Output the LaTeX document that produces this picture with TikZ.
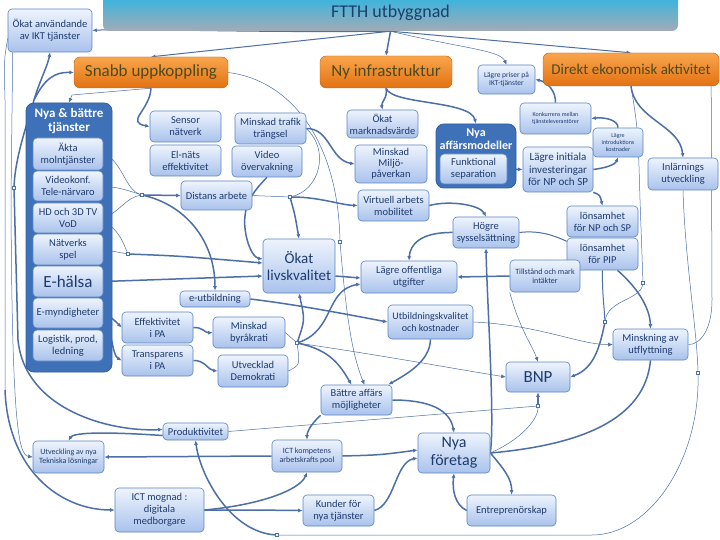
\documentclass[tikz,border=0pt]{standalone}
\usepackage{fontspec}
\setmainfont{Carlito}
\usetikzlibrary{arrows.meta}
\pgfdeclarelayer{back}
\pgfdeclarelayer{bg}
\pgfsetlayers{back,bg,main}
\definecolor{lc}{HTML}{4C6FA6}
\definecolor{bt}{HTML}{EEF4FD}
\definecolor{bb}{HTML}{A9C2EC}
\definecolor{bd}{HTML}{5A84C3}
\definecolor{tx}{HTML}{1F3B6E}
\definecolor{ort}{HTML}{F9A54C}
\definecolor{orb}{HTML}{E27212}
\definecolor{otx}{HTML}{4E4A1E}
\definecolor{cb}{HTML}{3F71B9}
\definecolor{cbd}{HTML}{2F5E9F}
\definecolor{tt}{HTML}{2DB6E2}
\definecolor{tb}{HTML}{A2ABB5}
\definecolor{ttx}{HTML}{1B3F6E}
\newcommand\fs[2]{\fontsize{#1}{#2}\selectfont}
\newcommand\mkbox[7][lb]{\node[#1,minimum width={(#5)-(#3)},minimum height={(#6)-(#4)}] (#2) at ({((#3)+(#5))/2},{((#4)+(#6))/2}) {#7};}
\tikzset{
 lb/.style={draw=bd, line width=0.6pt, rounded corners=4pt, top color=bt, bottom color=bb, text=tx, align=center, inner sep=0pt, font=\fs{10.5}{12}},
 orbox/.style={draw=orb!85!black, line width=0.4pt, rounded corners=6pt, top color=ort, bottom color=orb, text=otx, align=center, inner sep=0pt, font=\fs{17}{19}},
 titlebox/.style={rounded corners=6pt, top color=tt, bottom color=tb, text=ttx, align=center, inner sep=0pt, font=\fs{18}{20}},
 cont/.style={fill=cb, draw=cbd, line width=0.8pt, rounded corners=8pt, inner sep=0pt},
 ctitle/.style={text=white, font=\bfseries\fs{13}{14}, align=center, inner sep=0pt},
 jq/.style={draw=lc, fill=white, minimum size=3pt, inner sep=0pt, line width=0.4pt},
 arr/.style={-{Latex[length=4.5pt,width=4pt]}},
 thk/.style={draw=lc, line width=1.5pt},
 med/.style={draw=lc, line width=1pt},
 thn/.style={draw=lc, line width=0.5pt},
}
\begin{document}
\begin{tikzpicture}[x=1pt,y=-1pt]
\useasboundingbox (0,0) rectangle (720,540);
\begin{pgfonlayer}{back}
\fill[white] (0,0) rectangle (720,540);
\end{pgfonlayer}
% ---------- nodes ----------
\mkbox[titlebox]{ftth}{103}{-6}{678}{31}{FTTH utbyggnad}
\mkbox{okat}{8}{9}{92}{52}{Ökat användande\\av IKT tjänster}
\mkbox[orbox]{snabb}{74}{57}{228}{88}{Snabb uppkoppling}
\mkbox[orbox]{nyinf}{320}{56}{452}{88}{Ny infrastruktur}
\mkbox[orbox,font=\fs{15}{17}]{direkt}{543}{53}{719}{86}{Direkt ekonomisk aktivitet}
\mkbox[lb,font=\fs{7.5}{8.5}]{lpris}{478}{65}{535}{94}{Lägre priser på\\IKT-tjänster}
\mkbox[cont]{nbt}{26}{103}{112}{372}{}
\node[ctitle] (nbtt) at (69,121) {Nya \& bättre\\tjänster};
\mkbox{akta}{33}{138}{103}{170}{Äkta\\molntjänster}
\mkbox{vkonf}{33}{171}{103}{201}{Videokonf.\\Tele-närvaro}
\mkbox{hdtv}{33}{203}{103}{233}{HD och 3D TV\\VoD}
\mkbox{spel}{33}{234}{103}{265}{Nätverks\\spel}
\mkbox[lb,font=\fs{17}{18}]{ehalsa}{33}{266}{103}{297}{E-hälsa}
\mkbox{emyn}{33}{298}{103}{328}{E-myndigheter}
\mkbox{logi}{33}{330}{103}{361}{Logistik, prod,\\ledning}
\mkbox{sensor}{150}{111}{221}{142}{Sensor\\nätverk}
\mkbox{elnat}{150}{145}{221}{176}{El-näts\\effektivitet}
\mkbox{mtraf}{235}{113}{306}{144}{Minskad trafik\\trängsel}
\mkbox{video}{232}{146}{302}{177}{Video\\övervakning}
\mkbox{distans}{181}{181}{252}{210}{Distans arbete}
\mkbox{marknad}{347}{110}{418}{138}{Ökat\\marknadsvärde}
\mkbox[lb,font=\fs{10.5}{11}]{miljo}{355}{145}{427}{183}{Minskad\\Miljö-\\påverkan}
\mkbox{virt}{358}{190}{429}{221}{Virtuell arbets\\mobilitet}
\mkbox[cont]{nya}{436}{124}{516}{188}{}
\node[ctitle,font=\bfseries\fs{12}{13}] (nyat) at (476,139) {Nya\\affärsmodeller};
\mkbox{funk}{440}{154}{507}{184}{Funktional\\separation}
\mkbox[lb,font=\fs{6}{7}]{konk}{520}{103}{591}{134}{Konkurrens mellan\\tjänsteleverantörer}
\mkbox[lb,font=\fs{6}{7}]{intro}{593}{128}{643}{157}{Lägre\\introduktions\\kostnader}
\mkbox[lb,font=\fs{11}{12.5}]{linit}{523}{147}{593}{192}{Lägre initiala\\investeringar\\för NP och SP}
\mkbox{inlarn}{648}{158}{718}{190}{Inlärnings\\utveckling}
\mkbox{lnp}{567}{206}{638}{237}{lönsamhet\\för NP och SP}
\mkbox{lpip}{567}{238}{638}{270}{lönsamhet\\för PIP}
\mkbox[lb,font=\fs{8}{9}]{tillst}{510}{260}{580}{292}{Tillstånd och mark\\intäkter}
\mkbox{hogre}{453}{217}{519}{248}{Högre\\sysselsättning}
\mkbox{loff}{361}{261}{457}{293}{Lägre offentliga\\utgifter}
\mkbox[lb,font=\fs{15}{17}]{livs}{263}{239}{335}{293}{Ökat\\livskvalitet}
\mkbox{eutb}{180}{291}{250}{307}{e-utbildning}
\mkbox{effpa}{122}{312}{193}{343}{Effektivitet\\i PA}
\mkbox{transp}{122}{345}{193}{376}{Transparens\\i PA}
\mkbox{byr}{213}{317}{285}{348}{Minskad\\byråkrati}
\mkbox{demo}{218}{355}{288}{387}{Utvecklad\\Demokrati}
\mkbox[lb,font=\fs{10}{12}]{utbk}{388}{305}{473}{339}{Utbildningskvalitet\\och kostnader}
\mkbox{minsk}{613}{329}{688}{360}{Minskning av\\utflyttning}
\mkbox[lb,font=\fs{17}{18}]{bnp}{506}{362}{570}{392}{BNP}
\mkbox{battre}{321}{385}{392}{415}{Bättre affärs\\möjligheter}
\mkbox{prod}{163}{423}{228}{440}{Produktivitet}
\mkbox[lb,font=\fs{8}{9}]{utv}{33}{441}{104}{473}{Utveckling av nya\\Tekniska lösningar}
\mkbox[lb,font=\fs{8}{9}]{ictk}{272}{440}{342}{472}{ICT kompetens\\arbetskrafts pool}
\mkbox[lb,font=\fs{16}{18}]{nyaf}{418}{433}{490}{473}{Nya\\företag}
\mkbox{mogn}{115}{488}{204}{532}{ICT mognad :\\digitala\\medborgare}
\mkbox{kund}{303}{495}{374}{526}{Kunder för\\nya tjänster}
\mkbox{entre}{467}{495}{556}{526}{Entreprenörskap}
% junctions
\node[jq] (j1) at (142,195) {};
\node[jq] (j2) at (128,254) {};
\node[jq] (j3) at (297,343) {};
\node[jq] (j4) at (290,197) {};
\node[jq] (j5) at (643,283) {};
\node[jq] (j6) at (605,322) {};
\node[jq] (j7) at (538,406) {};
\node[jq] (j8) at (277,535) {};
\node[jq] (j9) at (698,373) {};
\node[jq] (js) at (340,242) {};
\node[jq] (l2) at (14,188) {};
\coordinate (l1) at (34,100);
% ---------- connectors ----------
\begin{pgfonlayer}{bg}
% FTTH
\draw[thk,arr] (ftth.south) -- (nyinf.north);
\draw[med,arr] (ftth.south) -- (direkt.north);
\draw[med,arr] (ftth.south) -- (snabb.north);
\draw[med,arr] (ftth.south) .. controls (250,33) and (130,28) .. (okat.east);
\draw[thn,arr] (ftth.south) .. controls (460,48) and (500,50) .. (lpris.north);
% Snabb uppkoppling
\draw[thk,arr] (snabb.south) .. controls (150,110) and (125,122) .. (sensor.west);
\draw[thn,arr] (snabb.south) -- (72,95) -- (nbt.north);
\draw[thn] (snabb.east) .. controls (290,80) and (338,140) .. (js);
\draw[thn,arr] (js) .. controls (345,300) and (350,350) .. ([xshift=8pt]battre.north);
% left side
\draw[thk,arr] (l1) .. controls (40,80) and (48,65) .. (okat.south);
\draw[thk,arr] (l1) .. controls (45,78) and (55,72) .. (snabb.west);
\draw[thk] (l1) .. controls (25,130) and (15,160) .. (l2);
\draw[thk,arr] (l2) -- (18,340) .. controls (25,410) and (110,432) .. ([yshift=2pt]prod.west);
\draw[thn] ([yshift=-8pt]okat.west) .. controls (4,60) .. (5,100) -- (5,390);
\draw[thk,arr] (5,390) .. controls (8,470) and (60,510) .. (mogn.west);
\draw[thn,arr] ([xshift=5pt]okat.south west) -- (11,200) .. controls (12,420) and (18,455) .. (utv.west);
% container internals
\draw[thn] (akta.east) .. controls (122,160) and (125,190) .. (j1);
\draw[thn] (vkonf.east) .. controls (120,188) .. (j1);
\draw[thn] (hdtv.east) .. controls (120,212) and (125,198) .. (j1);
\draw[thk,arr] (j1) -- (distans.west);
\draw[thk,arr] (j1) .. controls (185,205) and (215,240) .. (eutb.north);
\draw[thn] (hdtv.east) .. controls (120,235) .. (j2);
\draw[thn] (spel.east) -- (j2);
\draw[thk,arr] (j2) .. controls (180,256) .. ([yshift=3pt]livs.west);
\draw[thk,arr] (ehalsa.east) -- ([yshift=-10pt]livs.west);
\draw[thk,arr] (emyn.east) .. controls (112,318) .. (effpa.west);
\draw[thk,arr] (emyn.east) .. controls (112,330) and (112,355) .. (transp.west);
\draw[thk,arr] (effpa.east) .. controls (203,327) and (205,333) .. (byr.west);
\draw[thk,arr] (transp.east) .. controls (205,360) and (208,370) .. (demo.west);
% middle
\draw[thk,arr] (mtraf.east) .. controls (330,128) and (330,160) .. (miljo.west);
\draw[thn] (mtraf.east) .. controls (330,150) and (320,190) .. (j4);
\draw[thn] (distans.east) -- (j4);
\draw[thk,arr] (j4) .. controls (320,197) and (340,205) .. (virt.west);
\draw[thk,arr] (j4) .. controls (295,215) .. (livs.north);
\draw[thk,arr] (video.south) .. controls (255,190) and (240,205) .. (246,235) .. controls (249,250) and (255,258) .. ([yshift=7pt]livs.west);
\draw[thk,arr] ([yshift=-10pt]livs.east) -- ([yshift=-1pt]loff.west);
\draw[thk,arr] (eutb.east) .. controls (300,305) and (350,315) .. (utbk.west);
\draw[thn] (byr.east) -- (j3);
\draw[thk,arr] (j3) .. controls (335,330) and (325,290) .. ([yshift=-7pt]loff.west);
\draw[thk,arr] (j3) .. controls (305,320) .. (livs.south);
\draw[thk,arr] (j3) .. controls (330,350) and (340,365) .. ([xshift=-5pt]battre.north);
\draw[thn] (demo.east) .. controls (300,365) .. (j3);
\draw[thn,arr] (j3) .. controls (380,355) and (450,368) .. (bnp.west);
\draw[thk,arr] (utbk.south) .. controls (430,362) and (405,375) .. ([xshift=-4pt]battre.north east);
\draw[thn,arr] (utbk.east) .. controls (540,325) and (580,345) .. (minsk.west);
% Ny infrastruktur & right side
\draw[thk,arr] (nyinf.south) .. controls (388,98) and (381,102) .. (marknad.north);
\draw[thk,arr] (nyinf.south) .. controls (392,105) and (470,100) .. (nya.north);
\draw[thk,arr] (funk.east) -- (linit.west);
\draw[thk,arr] (linit.east) .. controls (605,168) and (615,165) .. (intro.south);
\draw[thk,arr] (intro.north) .. controls (618,120) and (605,117) .. (konk.east);
\draw[thk,arr] (konk.north) .. controls (556,92) and (548,82) .. (lpris.east);
\draw[thk,arr] (direkt.south) .. controls (635,120) and (680,125) .. (inlarn.north);
\draw[thn] (direkt.south) .. controls (638,130) .. (640,200) -- (j5);
\draw[thn] (j5) .. controls (640,300) and (608,300) .. (j6);
\draw[med] (lpip.south) .. controls (602,290) and (604,305) .. (j6);
\draw[thk,arr] (j6) .. controls (600,345) and (595,368) .. (bnp.east);
\draw[thk,arr] ([xshift=15pt]lpip.south) .. controls (640,290) and (650,310) .. (minsk.north);
\draw[thk,arr] (linit.south east) .. controls (600,195) .. (lnp.north);
\draw[med] (hogre.east) .. controls (540,230) and (555,236) .. ([yshift=-4pt]lnp.south west);
\draw[thk,arr] (virt.east) .. controls (450,200) and (480,205) .. (hogre.north);
\draw[thk,arr] (hogre.west) .. controls (420,232) and (410,245) .. (loff.north);
\draw[thk,arr] (tillst.west) -- (loff.east);
\draw[thn,arr] (tillst.south west) .. controls (520,330) and (532,345) .. (bnp.north);
\draw[thn] ([xshift=-8pt]direkt.south east) -- (712,300) .. controls (712,330) and (700,345) .. (minsk.east);
\draw[thn] (inlarn.south) .. controls (685,260) and (697,330) .. (j9);
\draw[thn] (j9) .. controls (700,460) and (650,535) .. (592,535) -- (j8);
\draw[thk,arr] (j8) .. controls (230,532) and (200,475) .. (prod.south);
% lower part
\draw[thk,arr] (nyaf.east) .. controls (495,420) and (487,300) .. (hogre.south);
\draw[thk] (nyaf.east) .. controls (580,445) and (645,420) .. (minsk.south);
\draw[thn] (nyaf.east) .. controls (520,440) and (538,420) .. (j7);
\draw[thn] (prod.east) -- (j7);
\draw[thk,arr] (j7) -- (bnp.south);
\draw[thk,arr] (nyaf.east) .. controls (505,470) and (512,480) .. (entre.north);
\draw[thk,arr] (entre.west) .. controls (455,505) and (452,490) .. (nyaf.south);
\draw[thk,arr] (kund.east) .. controls (395,505) and (395,462) .. ([yshift=-5pt]nyaf.west);
\draw[thk,arr] (ictk.east) .. controls (380,455) .. ([yshift=3pt]nyaf.west);
\draw[thk,arr] (ictk.west) -- (utv.east);
\draw[thk,arr] (battre.south west) .. controls (315,420) and (307,430) .. (ictk.north);
\draw[thk,arr] (battre.east) .. controls (430,400) and (450,410) .. (nyaf.north);
\draw[thk,arr] (mogn.east) .. controls (260,505) and (300,490) .. (ictk.south);
\draw[thk,arr] (mogn.east) .. controls (250,510) .. (kund.west);
\draw[thk,arr] ([yshift=-4pt]prod.west) .. controls (140,434) and (75,430) .. (utv.north);
\end{pgfonlayer}
\end{tikzpicture}
\end{document}
